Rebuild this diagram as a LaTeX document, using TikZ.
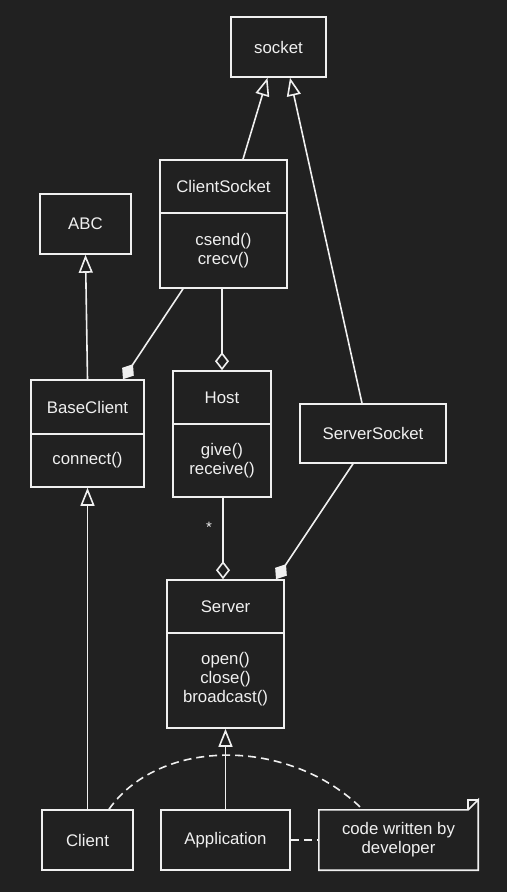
\documentclass[tikz,border=0pt]{standalone}
\usepackage{fontspec}
\setmainfont{Liberation Sans}
\usetikzlibrary{arrows.meta}
\definecolor{bgc}{HTML}{212121}
\definecolor{fgc}{HTML}{F0F0F0}
\begin{document}
\begin{tikzpicture}[x=1pt,y=-1pt,
  box/.style={draw=fgc, line width=1.6pt, fill=bgc, inner sep=0pt},
  txt/.style={text=fgc, font=\fontsize{16.8}{19}\selectfont, align=center, inner sep=0pt},
  ln/.style={draw=fgc, line width=1.6pt},
  inh/.style={ln, -{Triangle[open, length=18pt, width=14pt, line width=1.6pt]}},
  agg/.style={ln, -{Diamond[open, length=18pt, width=14pt, line width=1.6pt]}},
  comp/.style={ln, -{Diamond[fill=fgc, length=18pt, width=14pt, line width=1.6pt]}}]
\fill[bgc] (0,0) rectangle (507,892);
\useasboundingbox (0,0) rectangle (507,892);

% boxes
\node[box, minimum width=95pt, minimum height=60pt] (socket) at (278.5,47) {};
\node[txt] (socketT) at (278.5,47) {socket};

\node[box, minimum width=127pt, minimum height=128pt] (cs) at (223.5,224) {};
\draw[ln] (cs.west |- 0,213) coordinate (csd) -- (cs.east |- 0,213);
\node[txt] (csT) at (223.5,186.5) {ClientSocket};
\node[txt] (csM) at (223.5,250.5) {csend()\\crecv()};

\node[box, minimum width=91pt, minimum height=60pt] (abc) at (85.5,224) {};
\node[txt] (abcT) at (85.5,224) {ABC};

\node[box, minimum width=113pt, minimum height=107pt] (bc) at (87.5,433.5) {};
\draw[ln] (bc.west |- 0,434) -- (bc.east |- 0,434);
\node[txt] (bcT) at (87.5,407) {BaseClient};
\node[txt] (bcM) at (87.5,460.5) {connect()};

\node[box, minimum width=98pt, minimum height=126pt] (host) at (222,434) {};
\draw[ln] (host.west |- 0,424) -- (host.east |- 0,424);
\node[txt] (hostT) at (222,397.5) {Host};
\node[txt] (hostM) at (222,461) {give()\\receive()};

\node[box, minimum width=146pt, minimum height=59pt] (ss) at (373,433.5) {};
\node[txt] (ssT) at (373,433.5) {ServerSocket};

\node[box, minimum width=117pt, minimum height=148pt] (srv) at (225.5,654) {};
\draw[ln] (srv.west |- 0,633) -- (srv.east |- 0,633);
\node[txt] (srvT) at (225.5,606.5) {Server};
\node[txt] (srvM) at (225.5,679) {open()\\close()\\broadcast()};

\node[box, minimum width=91pt, minimum height=60pt] (client) at (87.5,840) {};
\node[txt] (clientT) at (87.5,840) {Client};

\node[box, minimum width=129pt, minimum height=60pt] (app) at (225.5,840) {};
\node[txt] (appT) at (225.5,840) {Application};

\node[minimum width=159pt, minimum height=60pt, inner sep=0pt] (note) at (398.5,840) {};
\draw[ln, line join=miter] (note.north west) -- ([xshift=-10pt]note.north east) -- ([yshift=10pt]note.north east) -- (note.south east) -- (note.south west) -- cycle;
\draw[ln] ([xshift=-10pt]note.north east) -- ([xshift=-10pt,yshift=10pt]note.north east) -- ([yshift=10pt]note.north east);
\node[txt] (noteT) at (398.5,840) {code written by\\developer};

% connectors
\draw[inh] ([xshift=19.5pt]cs.north) -- ([xshift=-11pt]socket.south);
\draw[inh] ([xshift=-11pt]ss.north) -- ([xshift=11.5pt]socket.south);
\draw[inh] (bc.north) -- (abc.south);
\draw[inh] (client.north) -- (bc.south);
\draw[comp] ([xshift=-40.5pt]cs.south) -- ([xshift=35.5pt]bc.north);
\draw[agg] ([xshift=-1.5pt]cs.south) -- (host.north);
\draw[agg] ([xshift=1pt]host.south) -- ([xshift=-2.5pt]srv.north);
\node[txt, font=\fontsize{15}{15}\selectfont] (star) at (209,527) {*};
\draw[comp] ([xshift=-20pt]ss.south) -- ([xshift=50.5pt]srv.north);
\draw[inh] (app.north) -- (srv.south);
\draw[ln, dash pattern=on 8pt off 5pt] (app.east) -- (note.west);
\draw[ln, dash pattern=on 8pt off 5pt] ([xshift=21.5pt]client.north) .. controls (160,737) and (290,737) .. ([xshift=-35.5pt]note.north);
\end{tikzpicture}
\end{document}
